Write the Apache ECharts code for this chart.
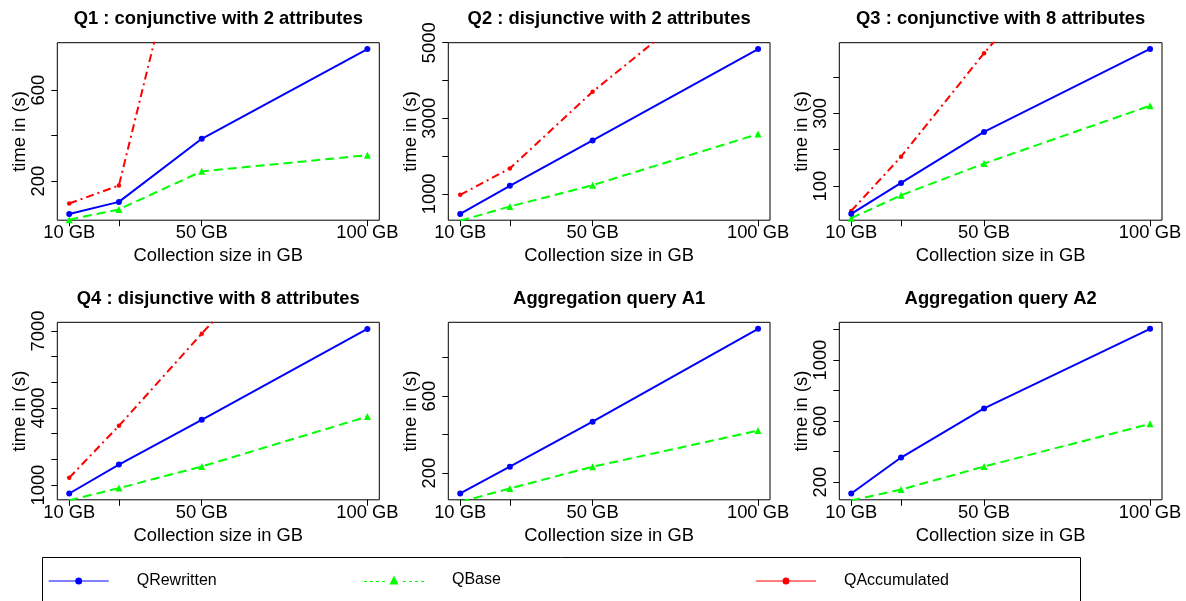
<!DOCTYPE html>
<html>
<head>
<meta charset="utf-8">
<script src="https://cdn.jsdelivr.net/npm/echarts@6/dist/echarts.min.js"></script>
<style>
html,body{margin:0;padding:0;background:#fff;}
#chart{width:1186px;height:601px;}
</style>
</head>
<body>
<div id="chart"></div>
<script>
// ---- data ----
const sizes = [10, 25, 50, 100];
const xTickValues = [10, 25, 50, 100];
const xLabelValues = [10, 50, 100];
const seriesNames = ['QRewritten', 'QBase', 'QAccumulated'];
const titles = [
  'Q1 : conjunctive with 2 attributes',
  'Q2 : disjunctive with 2 attributes',
  'Q3 : conjunctive with 8 attributes',
  'Q4 : disjunctive with 8 attributes',
  'Aggregation query A1',
  'Aggregation query A2'
];
const q1Rewritten = [56, 109, 386, 780];
const q1Base = [31, 76, 243, 314];
const q1Accumulated = [102, 181, 1660, 3300];
const q2Rewritten = [470, 1212, 2414, 4833];
const q2Base = [290, 666, 1230, 2581];
const q2Accumulated = [974, 1673, 3702, 7250];
const q3Rewritten = [24, 109, 249, 477];
const q3Base = [12, 75, 162, 321];
const q3Accumulated = [32, 181, 465, 1000];
const q4Rewritten = [673, 1801, 3540, 7080];
const q4Base = [410, 883, 1724, 3669];
const q4Accumulated = [1284, 3307, 6897, 13900];
const a1Rewritten = [94, 233, 467, 950];
const a1Base = [50, 120, 233, 421];
const a2Rewritten = [125, 361, 683, 1205];
const a2Base = [80, 151, 302, 582];
// y tick marks and labelled ticks per panel
const q1YTicks = [200, 400, 600], q1YLabels = [200, 600];
const q2YTicks = [1000, 2000, 3000, 4000, 5000], q2YLabels = [1000, 3000, 5000];
const q3YTicks = [100, 200, 300, 400], q3YLabels = [100, 300];
const q4YTicks = [1000, 2000, 3000, 4000, 5000, 6000, 7000], q4YLabels = [1000, 4000, 7000];
const a1YTicks = [200, 400, 600, 800], a1YLabels = [200, 600];
const a2YTicks = [200, 400, 600, 800, 1000, 1200], a2YLabels = [200, 600, 1000];
// visible y ranges
const yRanges = [[28.6, 808], [303, 5000], [6.5, 494], [428, 7338], [61, 984], [84, 1248]];

const panelData = [
  [q1Rewritten, q1Base, q1Accumulated],
  [q2Rewritten, q2Base, q2Accumulated],
  [q3Rewritten, q3Base, q3Accumulated],
  [q4Rewritten, q4Base, q4Accumulated],
  [a1Rewritten, a1Base, null],
  [a2Rewritten, a2Base, null]
];
const yTicks = [q1YTicks, q2YTicks, q3YTicks, q4YTicks, a1YTicks, a2YTicks];
const yLabels = [q1YLabels, q2YLabels, q3YLabels, q4YLabels, a1YLabels, a2YLabels];

// ---- layout / style ----
const FONT = '"Liberation Sans", Arial, Helvetica, sans-serif';
const lefts = [57.3, 448.3, 839.3];
const widths = [322, 321.7, 322.7];
const tops = [42.7, 322.3];
const H = 177.5;
const colors = ['#0000ff', '#00ff00', '#ff0000'];

const grids = [], xAxes = [], yAxes = [], series = [], titleOpts = [];
for (let i = 0; i < 6; i++) {
  const c = i % 3, r = Math.floor(i / 3);
  grids.push({left: lefts[c], top: tops[r], width: widths[c], height: H,
    show: true, borderColor: '#000', borderWidth: 1, backgroundColor: 'transparent'});
  titleOpts.push({text: titles[i], left: lefts[c] + widths[c] / 2, top: r === 0 ? 10 : 290,
    textAlign: 'center', padding: 0,
    textStyle: {fontFamily: FONT, fontWeight: 'bold', fontSize: 18.4, color: '#000'}});
  xAxes.push({type: 'value', gridIndex: i, min: 6.4, max: 103.6,
    name: 'Collection size in GB', nameLocation: 'middle', nameGap: 27,
    nameTextStyle: {fontFamily: FONT, fontSize: 18.4, color: '#000'},
    axisLine: {show: false}, splitLine: {show: false},
    axisTick: {show: true, length: 6, inside: false, customValues: xTickValues, lineStyle: {color: '#000', width: 1}},
    axisLabel: {customValues: xLabelValues, margin: 4, formatter: v => v + ' GB',
      fontFamily: FONT, fontSize: 18.4, color: '#000'}});
  yAxes.push({type: 'value', gridIndex: i, min: yRanges[i][0], max: yRanges[i][1],
    name: 'time in (s)', nameLocation: 'middle', nameGap: 28, nameRotate: 90,
    nameTextStyle: {fontFamily: FONT, fontSize: 18.4, color: '#000'},
    axisLine: {show: false}, splitLine: {show: false},
    axisTick: {show: true, length: 6, customValues: yTicks[i], lineStyle: {color: '#000', width: 1}},
    axisLabel: {customValues: yLabels[i], rotate: 90, margin: 9, formatter: v => String(v),
      fontFamily: FONT, fontSize: 18.4, color: '#000'}});
  const d = panelData[i];
  for (let s = 0; s < 3; s++) {
    if (!d[s]) continue;
    const base = {
      name: seriesNames[s], type: 'line', xAxisIndex: i, yAxisIndex: i, clip: true,
      color: colors[s],
      data: sizes.map((x, k) => [x, d[s][k]]), silent: true, animation: false,
      z: 3 - s
    };
    if (s === 0) Object.assign(base, {symbol: 'circle', symbolSize: 6,
      lineStyle: {color: colors[0], width: 2, type: 'solid'}, itemStyle: {color: colors[0]}});
    if (s === 1) Object.assign(base, {symbol: 'triangle', symbolSize: 7,
      lineStyle: {color: colors[1], width: 2, type: [9, 5]}, itemStyle: {color: colors[1]}});
    if (s === 2) Object.assign(base, {symbol: 'circle', symbolSize: 4.5,
      lineStyle: {color: colors[2], width: 2, type: [8, 4, 2, 4]}, itemStyle: {color: colors[2]}});
    series.push(base);
  }
}

// legend icons: line + marker drawn as one filled path (60 px wide)
const circleIcon = 'path://M0,3L26.5,3L26.5,4L0,4Z M33.5,3L60,3L60,4L33.5,4Z ' +
  'M26.5,3.5A3.5,3.5 0 0 1 33.5,3.5A3.5,3.5 0 0 1 26.5,3.5Z';
let dashPath = '';
[[0, 3], [6, 9], [12, 15], [18, 21], [39, 42], [45, 48], [51, 54], [57, 60]].forEach(([a, b]) => {
  dashPath += 'M' + a + ',5.5L' + b + ',5.5L' + b + ',6.5L' + a + ',6.5Z ';
});
const triangleIcon = 'path://' + dashPath + 'M30,0L34.5,9L25.5,9Z';

const legendText = {fontFamily: FONT, fontSize: 16, color: '#000', padding: [0, 0, 0, 23]};
const legends = [
  {data: [{name: 'QRewritten', icon: circleIcon, itemStyle: {color: colors[0]}}],
    left: 48.7, top: 573, itemWidth: 60, itemHeight: 7, padding: 0,
    selectedMode: false, textStyle: legendText},
  {data: [{name: 'QBase', icon: triangleIcon, itemStyle: {color: colors[1]}}],
    left: 364, top: 572, itemWidth: 60, itemHeight: 9, padding: 0,
    selectedMode: false, textStyle: legendText},
  {data: [{name: 'QAccumulated', icon: circleIcon, itemStyle: {color: colors[2]}}],
    left: 756, top: 573, itemWidth: 60, itemHeight: 7, padding: 0,
    selectedMode: false, textStyle: legendText}
];

const chart = echarts.init(document.getElementById('chart'), null, {renderer: 'canvas'});
chart.setOption({
  backgroundColor: '#fff',
  animation: false,
  title: titleOpts,
  grid: grids,
  xAxis: xAxes,
  yAxis: yAxes,
  legend: legends,
  series: series,
  graphic: [{type: 'rect', left: 40, top: 555, silent: true,
    shape: {width: 1038, height: 60},
    style: {fill: 'none', stroke: '#000', lineWidth: 1}}]
});
</script>
</body>
</html>
